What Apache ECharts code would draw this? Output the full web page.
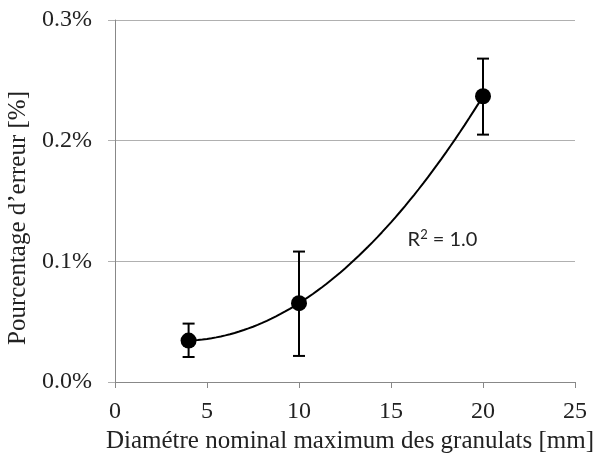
<!DOCTYPE html>
<html>
<head>
<meta charset="utf-8">
<script src="https://cdn.jsdelivr.net/npm/echarts@6/dist/echarts.min.js"></script>
<style>html,body{margin:0;padding:0;background:#fff;}#c{width:595px;height:458px;}</style>
</head>
<body>
<div id="c"></div>
<script>
// Data (values in %)
var diameters = [4, 10, 20];
var errorPct = [0.0343, 0.0653, 0.2368];
var errLow = [0.0207, 0.0216, 0.205];
var errHigh = [0.0484, 0.1081, 0.268];
var xTicks = [0, 5, 10, 15, 20, 25];
var yTicks = [0.0, 0.1, 0.2, 0.3];
var r2Text = { base: 'R', sup: '2', rest: ' = 1.0' };
var r2Pos = [17.8, 0.118];

// Quadratic trendline through the data (Excel polynomial order 2, R²=1)
function quadFit(xs, ys) {
  var x1 = xs[0], x2 = xs[1], x3 = xs[2], y1 = ys[0], y2 = ys[1], y3 = ys[2];
  var d = (x1 - x2) * (x1 - x3) * (x2 - x3);
  var a = (x3 * (y2 - y1) + x2 * (y1 - y3) + x1 * (y3 - y2)) / d;
  var b = (x3 * x3 * (y1 - y2) + x2 * x2 * (y3 - y1) + x1 * x1 * (y2 - y3)) / d;
  var c = (x2 * x3 * (x2 - x3) * y1 + x3 * x1 * (x3 - x1) * y2 + x1 * x2 * (x1 - x2) * y3) / d;
  return function (x) { return a * x * x + b * x + c; };
}
var f = quadFit(diameters, errorPct);
var trend = [];
for (var i = 0; i <= 64; i++) {
  var xv = diameters[0] + (diameters[2] - diameters[0]) * i / 64;
  trend.push([xv, f(xv)]);
}

var serif = '"Liberation Serif", "DejaVu Serif", serif';
var chart = echarts.init(document.getElementById('c'));
chart.setOption({
  animation: false,
  backgroundColor: '#fff',
  grid: { left: 115, right: 20, top: 20, bottom: 76, containLabel: false, outerBoundsMode: 'none' },
  xAxis: {
    type: 'value', min: 0, max: 25, interval: 5,
    name: 'Diamétre nominal maximum des granulats [mm]',
    nameLocation: 'middle', nameGap: 47,
    nameTextStyle: { fontFamily: serif, fontSize: 25, color: '#222', padding: [0, 0, 0, 10] },
    axisLine: { show: true, lineStyle: { color: '#888', width: 1 } },
    axisTick: { show: true, inside: false, length: 6, lineStyle: { color: '#888' } },
    axisLabel: { fontFamily: serif, fontSize: 24, color: '#222', margin: 18 },
    splitLine: { show: false }
  },
  yAxis: {
    type: 'value', min: 0, max: 0.3, interval: 0.1,
    name: 'Pourcentage d\u2019erreur [%]',
    nameLocation: 'middle', nameGap: 73,
    nameTextStyle: { fontFamily: serif, fontSize: 25, color: '#222', padding: [0, 34, 0, 0] },
    axisLine: { show: true, lineStyle: { color: '#888', width: 1 } },
    axisTick: { show: true, inside: false, length: 7, lineStyle: { color: '#b0b0b0' } },
    axisLabel: { fontFamily: serif, fontSize: 24, color: '#222', margin: 23,
      formatter: function (v) { return v.toFixed(1) + '%'; } },
    splitLine: { show: true, lineStyle: { color: '#b0b0b0', width: 1 } }
  },
  series: [
    {
      type: 'line', data: trend, showSymbol: false, smooth: false,
      lineStyle: { color: '#000', width: 2 }, z: 2,
      markPoint: {
        symbol: 'circle', symbolSize: 0,
        data: [{ coord: r2Pos, value: 1 }],
        label: { show: true, position: 'inside',
          formatter: r2Text.base + '{sup|' + r2Text.sup + '}' + r2Text.rest,
          fontFamily: 'Lato, "Open Sans", sans-serif', fontSize: 20, color: '#222',
          rich: { sup: { fontFamily: 'Lato, "Open Sans", sans-serif', fontSize: 13, color: '#222', padding: [0, 0, 10, 0] } }
        }
      }
    },
    {
      type: 'custom',
      data: diameters.map(function (d, i) { return [d, errLow[i], errHigh[i]]; }),
      renderItem: function (params, api) {
        var lo = api.coord([api.value(0), api.value(1)]);
        var hi = api.coord([api.value(0), api.value(2)]);
        var hw = 6;
        var st = { stroke: '#000', lineWidth: 2 };
        return { type: 'group', children: [
          { type: 'line', shape: { x1: lo[0], y1: lo[1], x2: hi[0], y2: hi[1] }, style: st },
          { type: 'line', shape: { x1: lo[0] - hw, y1: lo[1], x2: lo[0] + hw, y2: lo[1] }, style: st },
          { type: 'line', shape: { x1: hi[0] - hw, y1: hi[1], x2: hi[0] + hw, y2: hi[1] }, style: st }
        ]};
      },
      z: 3
    },
    {
      type: 'scatter',
      data: diameters.map(function (d, i) { return [d, errorPct[i]]; }),
      symbol: 'circle', symbolSize: 16,
      itemStyle: { color: '#000', opacity: 1 }, z: 4
    }
  ]
});
</script>
</body>
</html>
